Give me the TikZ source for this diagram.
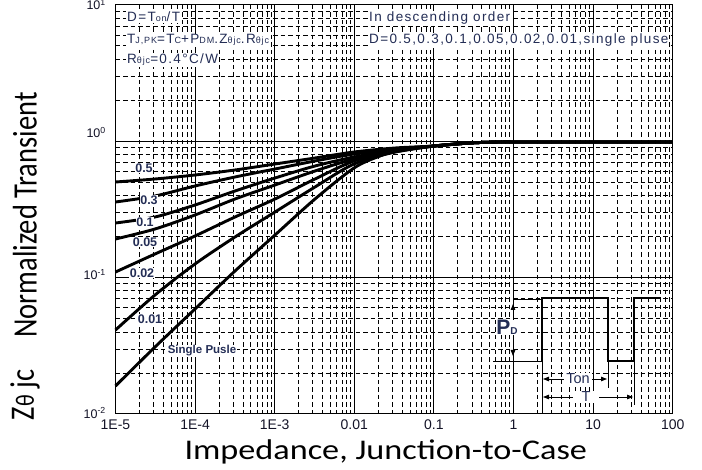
\documentclass[tikz,border=0pt]{standalone}
\usepackage{fontspec}
\setmainfont{Liberation Sans}
\newfontfamily\ttlfont{Carlito}
\newfontfamily\annfont[LetterSpace=10]{Liberation Sans}
\usetikzlibrary{arrows.meta}
\definecolor{navy}{RGB}{35,45,85}
\definecolor{tickc}{RGB}{20,20,40}
\newcommand\mysub[1]{{\fontsize{9}{9}\selectfont #1}}
\begin{document}
\begin{tikzpicture}[x=1pt,y=-1pt,
  minor/.style={line width=0.75pt, dash pattern=on 4.5pt off 3pt},
  major/.style={line width=0.85pt},
  curve/.style={line width=2.9pt, line join=round},
  lbl/.style={font=\fontsize{12.5}{12.5}\selectfont\bfseries, text=navy, fill=white, inner sep=0.8pt},
  ann/.style={font=\annfont\fontsize{13.5}{14}\selectfont, text=navy, fill=white, inner sep=1pt, anchor=base west},
  tick/.style={font=\fontsize{14}{14}\selectfont, text=tickc, anchor=base},
  ytick/.style={font=\fontsize{12.5}{12.5}\selectfont, text=tickc, anchor=base east, inner sep=0pt},
  pulse/.style={line width=1.8pt, line join=miter},
  thinl/.style={line width=0.8pt},
  arr/.style={line width=0.8pt, -{Triangle[length=6pt,width=4.5pt]}},
  dim/.style={line width=0.8pt, {Triangle[length=6pt,width=4.5pt]}-{Triangle[length=6pt,width=4.5pt]}},
  ttl/.style={font=\ttlfont\fontsize{28.5}{28.5}\selectfont, text=black}
]
\useasboundingbox (0,0) rectangle (702,470);
\fill[white] (0,0) rectangle (702,470);

% minor grid
\foreach \d in {0,...,6}{\foreach \k in {2,...,9}{
  \pgfmathsetmacro\xx{115.5+79.6*(\d+ln(\k)/ln(10))}
  \draw[minor] (\xx,4.8) -- (\xx,414);}}
\foreach \d in {0,1,2}{\foreach \k in {2,...,9}{
  \pgfmathsetmacro\yy{414-136.4*(\d+ln(\k)/ln(10))}
  \draw[minor] (115.5,\yy) -- (672.7,\yy);}}
% major grid
\foreach \d in {1,...,6}{\pgfmathsetmacro\xx{115.5+79.6*\d}\draw[major] (\xx,4.8) -- (\xx,414);}
\foreach \d in {1,2}{\pgfmathsetmacro\yy{414-136.4*\d}\draw[major] (115.5,\yy) -- (672.7,\yy);}
\draw[line width=1pt] (115.5,4.8) rectangle (672.7,414);

% curves
\draw[curve] plot[smooth,tension=0.5] coordinates {(115.5,182)(155,179)(195,175)(235,170)(275,164)(315,158)(354,152)(395,148)(434,146)(470,143)(500,142)(530,142)(672.7,142)};
\draw[curve] plot[smooth,tension=0.5] coordinates {(115.5,202)(155,196)(195,186)(235,177)(275,169)(315,161)(354,154)(395,149)(434,146)(470,143)(500,142)(530,142)(672.7,142)};
\draw[curve] plot[smooth,tension=0.5] coordinates {(115.5,223)(155,217)(195,205)(235,191)(275,178)(315,166)(354,157)(395,150)(434,146)(470,143)(500,142)(530,142)(672.7,142)};
\draw[curve] plot[smooth,tension=0.5] coordinates {(115.5,239)(155,229)(195,215)(235,199)(275,185)(315,171)(354,159)(395,151)(434,146)(470,143)(500,142)(530,142)(672.7,142)};
\draw[curve] plot[smooth,tension=0.5] coordinates {(115.5,272)(155,254)(195,236)(235,217)(275,199)(315,179)(354,161)(395,151)(434,146)(470,143)(500,142)(530,142)(672.7,142)};
\draw[curve] plot[smooth,tension=0.5] coordinates {(115.5,330)(155,295)(195,264)(235,237)(275,212)(315,187)(354,164)(395,152)(434,146)(470,143)(500,142)(530,142)(672.7,142)};
\draw[curve] plot[smooth,tension=0.5] coordinates {(115.5,386)(155,347)(195,309)(235,271)(275,235)(315,199)(354,168)(380,156)(395,152)(434,146)(470,143)(500,142)(530,142)(672.7,142)};

% curve labels
\node[lbl] (l5) at (144,168) {0.5};
\node[lbl] (l3) at (149,200) {0.3};
\node[lbl] (l1) at (145,222) {0.1};
\node[lbl] (l05) at (145,242) {0.05};
\node[lbl] (l02) at (142,273) {0.02};
\node[lbl] (l01) at (150,319) {0.01};
\node[lbl, font=\fontsize{11.5}{11.5}\selectfont\bfseries] (lsp) at (202,351) {Single Pusle};

% annotations
\node[ann] (a1) at (126,22) {D=T\mysub{on}/T};
\node[ann] (a2) at (126,44) {T\mysub{J,PK}=T\mysub{C}+P\mysub{DM}.Z\mysub{θjc}.R\mysub{θjc}};
\node[ann] (a3) at (126,64) {R\mysub{θjc}=0.4°C/W};
\node[ann] (a4) at (368,22) {In descending order};
\node[ann] (a5) at (368,44) {D=0.5,0.3,0.1,0.05,0.02,0.01,single pluse};

% pulse diagram
\draw[thinl] (493,361) -- (542,361);
\draw[thinl] (513,299) -- (542,299);
\draw[thinl] (513,299) -- (513,361);
\draw[pulse] (542,361) -- (542,298) -- (608,298) -- (608,361) -- (634,361) -- (634,298) -- (660,298);
\draw[arr] (513,318) -- (513,304);
\draw[arr] (513,342) -- (513,356);
\node[font=\fontsize{21}{21}\selectfont\bfseries, text=navy, fill=white, inner sep=0.5pt, anchor=base] (pd) at (507,335) {P{\fontsize{10}{10}\selectfont D}};
\draw[thinl] (542,361) -- (542,414);
\draw[thinl] (608,361) -- (608,388);
\draw[thinl] (634,361) -- (634,405);
\draw[dim] (543,379) -- (607,379);
\node[font=\fontsize{14.5}{14.5}\selectfont, text=navy, fill=white, inner xsep=2pt, inner ysep=1pt] (ton) at (578,379) {Ton};
\draw[dim] (543,397) -- (633,397);
\node[font=\fontsize{14.5}{14.5}\selectfont, text=navy, fill=white, inner xsep=9pt, inner ysep=1pt] (tt) at (586,397) {T};

% tick labels
\node[tick] (x1) at (115.5,430) {1E-5};
\node[tick] (x2) at (195.1,430) {1E-4};
\node[tick] (x3) at (274.7,430) {1E-3};
\node[tick] (x4) at (354.3,430) {0.01};
\node[tick] (x5) at (433.9,430) {0.1};
\node[tick] (x6) at (513.5,430) {1};
\node[tick] (x7) at (593.1,430) {10};
\node[tick] (x8) at (672.7,430) {100};
\node[ytick] (y1) at (106,10) {10\textsuperscript{1}};
\node[ytick] (y0) at (106,138) {10\textsuperscript{0}};
\node[ytick] (ym1) at (106,280) {10\textsuperscript{-1}};
\node[ytick] (ym2) at (106,418) {10\textsuperscript{-2}};

% axis titles
\node[ttl, anchor=west] (xt) at (181,452) {\scalebox{1.2}[1]{Impedance, Junction-to-Case}};
\node[ttl, rotate=90] (yt1) at (25,215) {\scalebox{1}[1.2]{Normalized Transient}};
\node[ttl, rotate=90] (yt2) at (25,395) {\scalebox{1}[1.2]{Z{\fontsize{22}{22}\selectfont θ} jc}};
\end{tikzpicture}
\end{document}
